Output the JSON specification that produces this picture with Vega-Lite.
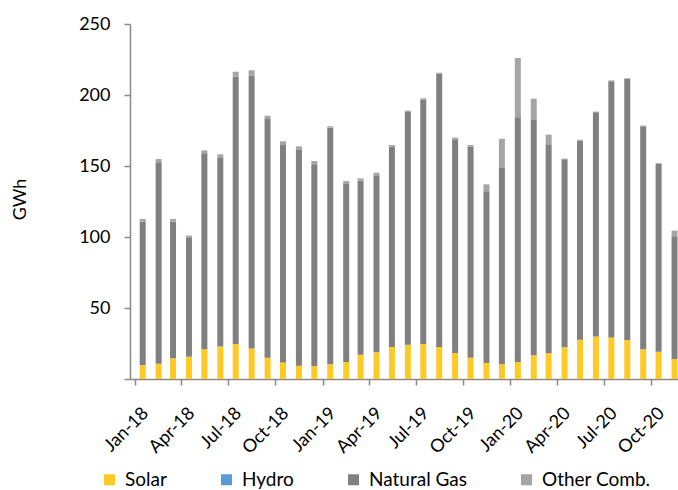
{
  "$schema": "https://vega.github.io/schema/vega-lite/v6.json",
  "width": 548,
  "height": 355,
  "autosize": "none",
  "padding": {"left": 130, "top": 24, "right": 0, "bottom": 111},
  "background": "white",
  "config": {"view": {"stroke": null}, "font": "Lato"},
  "data": {"values": [
    {"month": "2018-01-16", "source": "Solar", "GWh": 9.6}, {"month": "2018-01-16", "source": "Natural Gas", "GWh": 101.4}, {"month": "2018-01-16", "source": "Other Comb.", "GWh": 1.7},
    {"month": "2018-02-16", "source": "Solar", "GWh": 10.8}, {"month": "2018-02-16", "source": "Natural Gas", "GWh": 141.8}, {"month": "2018-02-16", "source": "Other Comb.", "GWh": 2.3},
    {"month": "2018-03-16", "source": "Solar", "GWh": 14.6}, {"month": "2018-03-16", "source": "Natural Gas", "GWh": 96.4}, {"month": "2018-03-16", "source": "Other Comb.", "GWh": 1.7},
    {"month": "2018-04-16", "source": "Solar", "GWh": 15.7}, {"month": "2018-04-16", "source": "Natural Gas", "GWh": 84.1}, {"month": "2018-04-16", "source": "Other Comb.", "GWh": 1.2},
    {"month": "2018-05-16", "source": "Solar", "GWh": 20.9}, {"month": "2018-05-16", "source": "Natural Gas", "GWh": 138.0}, {"month": "2018-05-16", "source": "Other Comb.", "GWh": 2.1},
    {"month": "2018-06-16", "source": "Solar", "GWh": 22.8}, {"month": "2018-06-16", "source": "Natural Gas", "GWh": 133.3}, {"month": "2018-06-16", "source": "Other Comb.", "GWh": 2.1},
    {"month": "2018-07-16", "source": "Solar", "GWh": 24.6}, {"month": "2018-07-16", "source": "Natural Gas", "GWh": 188.5}, {"month": "2018-07-16", "source": "Other Comb.", "GWh": 3.3},
    {"month": "2018-08-16", "source": "Solar", "GWh": 21.4}, {"month": "2018-08-16", "source": "Natural Gas", "GWh": 192.4}, {"month": "2018-08-16", "source": "Other Comb.", "GWh": 3.6},
    {"month": "2018-09-16", "source": "Solar", "GWh": 15.0}, {"month": "2018-09-16", "source": "Natural Gas", "GWh": 168.1}, {"month": "2018-09-16", "source": "Other Comb.", "GWh": 2.3},
    {"month": "2018-10-16", "source": "Solar", "GWh": 11.7}, {"month": "2018-10-16", "source": "Natural Gas", "GWh": 153.1}, {"month": "2018-10-16", "source": "Other Comb.", "GWh": 2.6},
    {"month": "2018-11-16", "source": "Solar", "GWh": 9.4}, {"month": "2018-11-16", "source": "Natural Gas", "GWh": 151.9}, {"month": "2018-11-16", "source": "Other Comb.", "GWh": 2.5},
    {"month": "2018-12-16", "source": "Solar", "GWh": 8.9}, {"month": "2018-12-16", "source": "Natural Gas", "GWh": 142.3}, {"month": "2018-12-16", "source": "Other Comb.", "GWh": 2.3},
    {"month": "2019-01-16", "source": "Solar", "GWh": 10.3}, {"month": "2019-01-16", "source": "Natural Gas", "GWh": 166.7}, {"month": "2019-01-16", "source": "Other Comb.", "GWh": 1.0},
    {"month": "2019-02-16", "source": "Solar", "GWh": 12.0}, {"month": "2019-02-16", "source": "Natural Gas", "GWh": 125.3}, {"month": "2019-02-16", "source": "Other Comb.", "GWh": 2.1},
    {"month": "2019-03-16", "source": "Solar", "GWh": 17.1}, {"month": "2019-03-16", "source": "Natural Gas", "GWh": 122.6}, {"month": "2019-03-16", "source": "Other Comb.", "GWh": 1.6},
    {"month": "2019-04-16", "source": "Solar", "GWh": 18.8}, {"month": "2019-04-16", "source": "Natural Gas", "GWh": 124.6}, {"month": "2019-04-16", "source": "Other Comb.", "GWh": 1.9},
    {"month": "2019-05-16", "source": "Solar", "GWh": 22.5}, {"month": "2019-05-16", "source": "Natural Gas", "GWh": 141.3}, {"month": "2019-05-16", "source": "Other Comb.", "GWh": 1.0},
    {"month": "2019-06-16", "source": "Solar", "GWh": 24.2}, {"month": "2019-06-16", "source": "Natural Gas", "GWh": 163.8}, {"month": "2019-06-16", "source": "Other Comb.", "GWh": 1.0},
    {"month": "2019-07-16", "source": "Solar", "GWh": 24.6}, {"month": "2019-07-16", "source": "Natural Gas", "GWh": 172.3}, {"month": "2019-07-16", "source": "Other Comb.", "GWh": 0.8},
    {"month": "2019-08-16", "source": "Solar", "GWh": 22.5}, {"month": "2019-08-16", "source": "Natural Gas", "GWh": 192.5}, {"month": "2019-08-16", "source": "Other Comb.", "GWh": 0.7},
    {"month": "2019-09-16", "source": "Solar", "GWh": 18.3}, {"month": "2019-09-16", "source": "Natural Gas", "GWh": 150.0}, {"month": "2019-09-16", "source": "Other Comb.", "GWh": 1.7},
    {"month": "2019-10-16", "source": "Solar", "GWh": 15.0}, {"month": "2019-10-16", "source": "Natural Gas", "GWh": 148.8}, {"month": "2019-10-16", "source": "Other Comb.", "GWh": 1.0},
    {"month": "2019-11-16", "source": "Solar", "GWh": 11.3}, {"month": "2019-11-16", "source": "Natural Gas", "GWh": 120.9}, {"month": "2019-11-16", "source": "Other Comb.", "GWh": 4.9},
    {"month": "2019-12-16", "source": "Solar", "GWh": 10.3}, {"month": "2019-12-16", "source": "Natural Gas", "GWh": 138.3}, {"month": "2019-12-16", "source": "Other Comb.", "GWh": 20.6},
    {"month": "2020-01-16", "source": "Solar", "GWh": 12.0}, {"month": "2020-01-16", "source": "Natural Gas", "GWh": 172.3}, {"month": "2020-01-16", "source": "Other Comb.", "GWh": 41.8},
    {"month": "2020-02-16", "source": "Solar", "GWh": 16.7}, {"month": "2020-02-16", "source": "Natural Gas", "GWh": 166.2}, {"month": "2020-02-16", "source": "Other Comb.", "GWh": 14.5},
    {"month": "2020-03-16", "source": "Solar", "GWh": 18.1}, {"month": "2020-03-16", "source": "Natural Gas", "GWh": 147.2}, {"month": "2020-03-16", "source": "Other Comb.", "GWh": 6.8},
    {"month": "2020-04-16", "source": "Solar", "GWh": 22.3}, {"month": "2020-04-16", "source": "Natural Gas", "GWh": 132.4}, {"month": "2020-04-16", "source": "Other Comb.", "GWh": 0.5},
    {"month": "2020-05-16", "source": "Solar", "GWh": 27.7}, {"month": "2020-05-16", "source": "Natural Gas", "GWh": 140.3}, {"month": "2020-05-16", "source": "Other Comb.", "GWh": 0.5},
    {"month": "2020-06-16", "source": "Solar", "GWh": 30.0}, {"month": "2020-06-16", "source": "Natural Gas", "GWh": 157.8}, {"month": "2020-06-16", "source": "Other Comb.", "GWh": 0.5},
    {"month": "2020-07-16", "source": "Solar", "GWh": 29.3}, {"month": "2020-07-16", "source": "Natural Gas", "GWh": 180.3}, {"month": "2020-07-16", "source": "Other Comb.", "GWh": 0.7},
    {"month": "2020-08-16", "source": "Solar", "GWh": 27.5}, {"month": "2020-08-16", "source": "Natural Gas", "GWh": 184.0}, {"month": "2020-08-16", "source": "Other Comb.", "GWh": 0.5},
    {"month": "2020-09-16", "source": "Solar", "GWh": 20.9}, {"month": "2020-09-16", "source": "Natural Gas", "GWh": 156.6}, {"month": "2020-09-16", "source": "Other Comb.", "GWh": 1.1},
    {"month": "2020-10-16", "source": "Solar", "GWh": 19.2}, {"month": "2020-10-16", "source": "Natural Gas", "GWh": 132.4}, {"month": "2020-10-16", "source": "Other Comb.", "GWh": 0.5},
    {"month": "2020-11-16", "source": "Solar", "GWh": 14.1}, {"month": "2020-11-16", "source": "Natural Gas", "GWh": 86.4}, {"month": "2020-11-16", "source": "Other Comb.", "GWh": 4.0}
  ]},
  "transform": [
    {"calculate": "indexof(['Solar', 'Hydro', 'Natural Gas', 'Other Comb.'], datum.source)", "as": "stackOrder"}
  ],
  "mark": {"type": "bar", "width": 6, "clip": true},
  "encoding": {
    "x": {
      "field": "month",
      "type": "temporal",
      "scale": {"domain": [{"year": 2018, "month": 1, "date": 1, "utc": true}, {"year": 2020, "month": 11, "date": 13, "utc": true}]},
      "axis": {
        "title": null,
        "grid": false,
        "values": [
          {"year": 2018, "month": 1, "date": 1, "utc": true},
          {"year": 2018, "month": 4, "date": 1, "utc": true},
          {"year": 2018, "month": 7, "date": 1, "utc": true},
          {"year": 2018, "month": 10, "date": 1, "utc": true},
          {"year": 2019, "month": 1, "date": 1, "utc": true},
          {"year": 2019, "month": 4, "date": 1, "utc": true},
          {"year": 2019, "month": 7, "date": 1, "utc": true},
          {"year": 2019, "month": 10, "date": 1, "utc": true},
          {"year": 2020, "month": 1, "date": 1, "utc": true},
          {"year": 2020, "month": 4, "date": 1, "utc": true},
          {"year": 2020, "month": 7, "date": 1, "utc": true},
          {"year": 2020, "month": 10, "date": 1, "utc": true}
        ],
        "labelExpr": "utcFormat(datum.value, '%b-%y')",
        "labelAngle": -45,
        "labelAlign": "right",
        "labelBaseline": "top",
        "labelOffset": 4,
        "labelPadding": 19,
        "labelFontSize": 18,
        "labelColor": "#000000",
        "labelFlush": false,
        "labelOverlap": false,
        "tickSize": 6,
        "tickColor": "#898989",
        "tickWidth": 1.5,
        "domainColor": "#898989",
        "domainWidth": 1.5
      }
    },
    "y": {
      "field": "GWh",
      "type": "quantitative",
      "stack": "zero",
      "scale": {"domain": [0, 250], "nice": false},
      "axis": {
        "values": [0, 50, 100, 150, 200, 250],
        "labelExpr": "datum.value == 0 ? '' : datum.label",
        "grid": false,
        "tickSize": 6,
        "tickColor": "#898989",
        "tickWidth": 1.5,
        "domainColor": "#898989",
        "domainWidth": 1.5,
        "labelPadding": 14,
        "labelFontSize": 18,
        "labelColor": "#000000",
        "title": "GWh",
        "titleFontSize": 18,
        "titleFontWeight": "normal",
        "titleColor": "#000000",
        "titleAngle": -90,
        "titleX": -110,
        "titleY": 175,
        "titleAlign": "center",
        "titleBaseline": "middle"
      }
    },
    "order": {"field": "stackOrder", "type": "quantitative", "sort": "ascending"},
    "color": {
      "field": "source",
      "type": "nominal",
      "scale": {
        "domain": ["Solar", "Hydro", "Natural Gas", "Other Comb."],
        "range": ["#FFC926", "#5B9BD5", "#808080", "#A5A5A5"]
      },
      "legend": {
        "title": null,
        "orient": "none",
        "legendX": -30,
        "legendY": 446,
        "direction": "horizontal",
        "symbolType": "square",
        "symbolSize": 121,
        "symbolStrokeWidth": 0,
        "labelFontSize": 19,
        "labelColor": "#000000",
        "labelOffset": 6,
        "columnPadding": 50
      }
    }
  }
}
